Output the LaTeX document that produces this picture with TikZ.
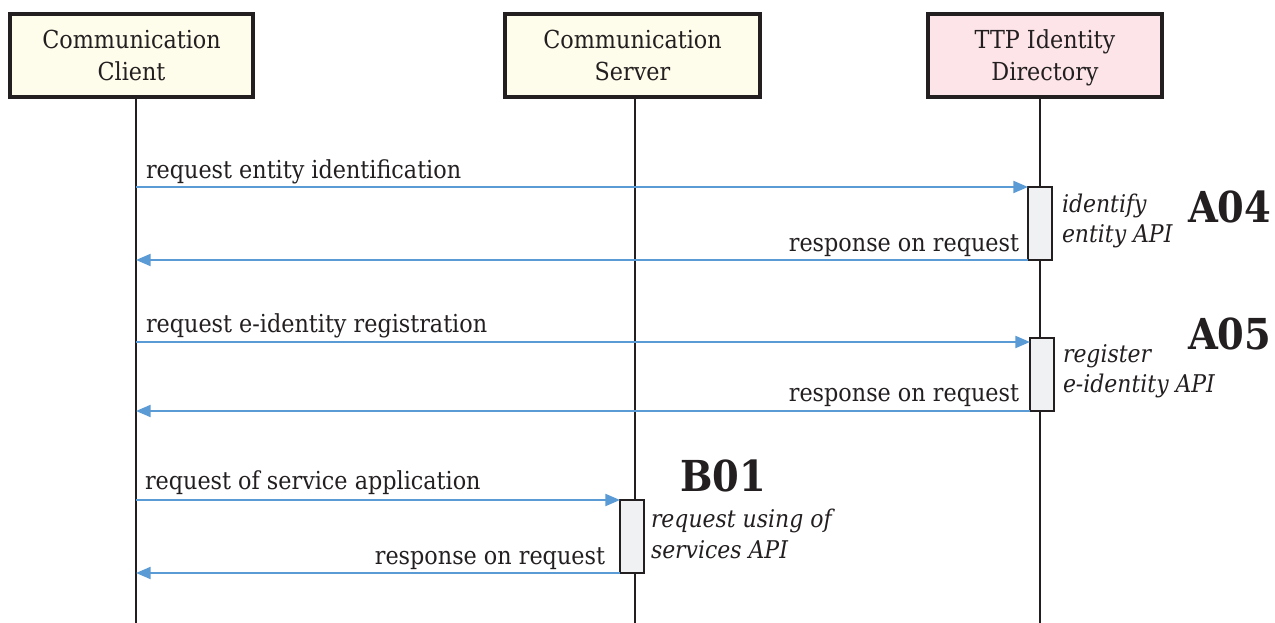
\documentclass[tikz,border=0pt]{standalone}
\usepackage{fontspec}
\setmainfont{DejaVu Serif Condensed}
\usetikzlibrary{arrows.meta}
\definecolor{clientfill}{HTML}{FEFDEB}
\definecolor{ttpfill}{HTML}{FCE4E8}
\definecolor{actfill}{HTML}{F0F1F3}
\definecolor{msgblue}{HTML}{5B9BD5}
\definecolor{ink}{HTML}{231F20}
\newcommand{\toprule}{\rule{0pt}{21.4pt}}
\begin{document}
\begin{tikzpicture}[x=0.75pt,y=-0.75pt,
  every node/.style={inner sep=0pt, outer sep=0pt, text=ink},
  actor/.style={draw=ink, line width=2.4pt, align=center, minimum width=#1*0.75pt, minimum height=83*0.75pt, font=\fontsize{18.6}{24}\selectfont},
  lifeline/.style={draw=ink, line width=1.3pt},
  actbox/.style={draw=ink, line width=2pt, fill=actfill, minimum width=24*0.75pt, minimum height=#1*0.75pt},
  msg/.style={draw=msgblue, line width=1.6pt, -{Triangle[length=11pt,width=9pt]}},
  lbl/.style={font=\fontsize{18.6}{22}\selectfont, anchor=base west},
  rlbl/.style={font=\fontsize{18.6}{22}\selectfont, anchor=base east},
  note/.style={font=\fontsize{18.3}{23}\selectfont\itshape, align=left, anchor=base west},
  code/.style={font=\fontsize{32}{34}\selectfont\bfseries, anchor=base west}
]
\useasboundingbox (0,0) rectangle (1275,623);
% actors
\node[actor=243, fill=clientfill] (client) at (131.5,55.5) {\toprule Communication\\Client\strut};
\node[actor=255, fill=clientfill] (server) at (632.5,55.5) {\toprule Communication\\Server\strut};
\node[actor=234, fill=ttpfill] (ttp) at (1045,55.5) {\toprule TTP Identity\\Directory\strut};
% lifelines
\coordinate (cEnd) at (136,623);
\coordinate (sEnd) at (635,623);
\coordinate (tEnd) at (1040,623);
\draw[lifeline] (client.south -| cEnd) -- (cEnd);
\draw[lifeline] (server.south -| sEnd) -- (sEnd);
\draw[lifeline] (ttp.south -| tEnd) -- (tEnd);
% activation boxes
\node[actbox=73, anchor=north west] (a04) at (1028,187) {};
\node[actbox=73, anchor=north west] (a05) at (1030,338) {};
\node[actbox=73, anchor=north west] (b01) at (620,500) {};
% messages
\coordinate (c3) at (136,342);
\draw[msg] (a04.north west -| cEnd) -- (a04.north west);
\draw[msg] (a04.south west) -- (a04.south west -| cEnd);
\draw[msg] (c3) -- (a05.west |- c3);
\draw[msg] (a05.south west) -- (a05.south west -| cEnd);
\draw[msg] (b01.north west -| cEnd) -- (b01.north west);
\draw[msg] (b01.south west) -- (b01.south west -| cEnd);
% message labels
\node[lbl] (l1) at (146,179) {request entity identification};
\node[rlbl] (l2) at (1019,252) {response on request};
\node[lbl] (l3) at (146,333) {request e-identity registration};
\node[rlbl] (l4) at (1019,402) {response on request};
\node[lbl] (l5) at (145,490) {request of service application};
\node[rlbl] (l6) at (605,564) {response on request};
% notes (anchor = baseline of last line)
\node[note] (n1) at (1062,243) {identify\\entity API};
\node[note] (n2) at (1063,393) {register\\e-identity API};
\node[note] (n3) at (651,558) {request using of\\services API};
% codes
\node[code] (k1) at (1188,223) {A04};
\node[code] (k2) at (1188,350) {A05};
\node[code] (k3) at (680,492) {B01};
\end{tikzpicture}
\end{document}
